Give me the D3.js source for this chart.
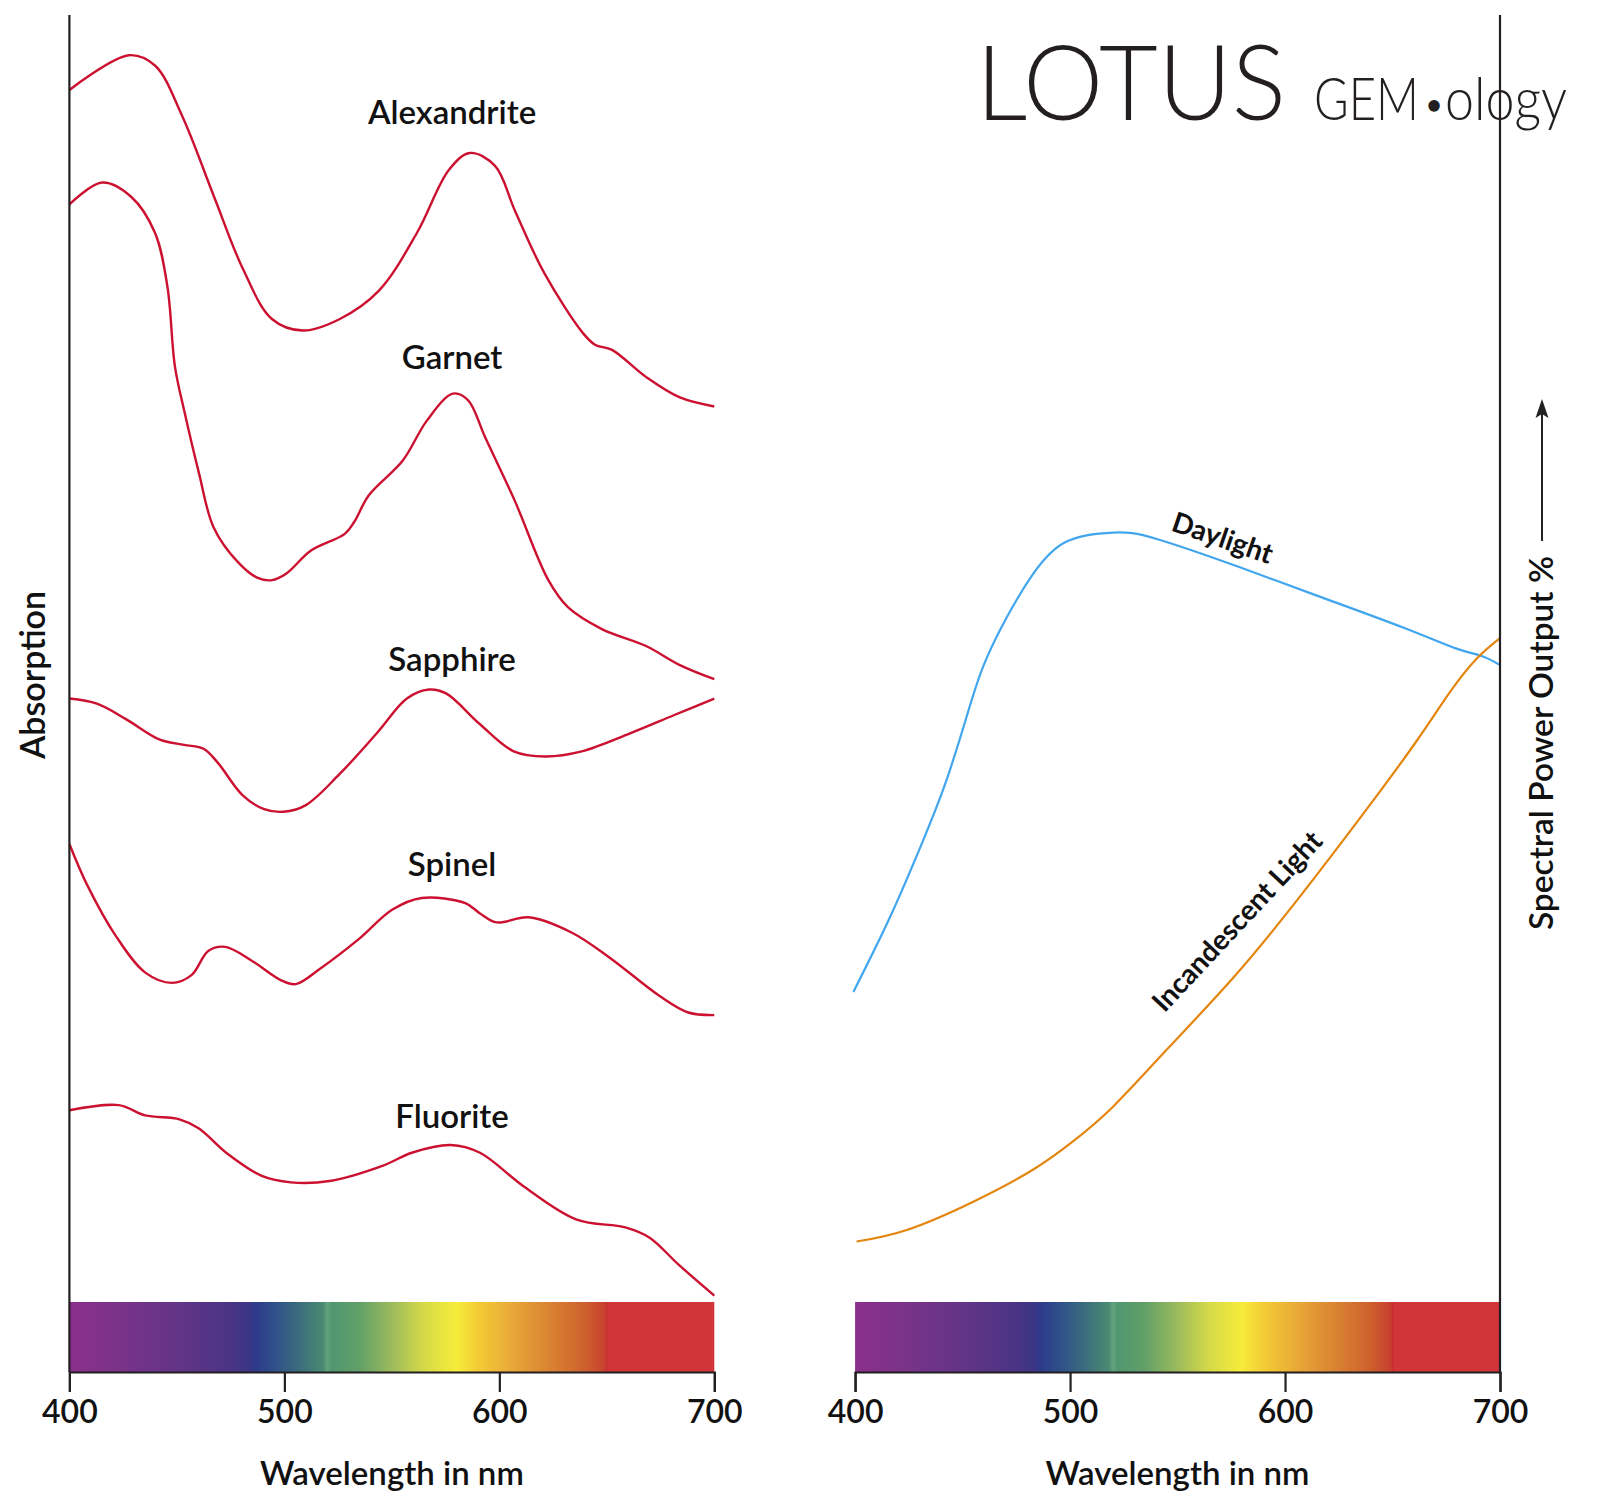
<!DOCTYPE html>
<html>
<head>
<meta charset="utf-8">
<script src="https://cdn.jsdelivr.net/npm/d3@7"></script>
<style>
  body { margin: 0; background: #fff; }
  #chart-area { width: 1600px; height: 1502px; }
  text { font-family: Lato, "Open Sans", sans-serif; fill: #111; }
</style>
</head>
<body>
<div id="chart-area"></div>
<script>
// wavelength (nm), absorption / output (arbitrary units 0-100)
var tickValues = [400, 500, 600, 700];

var alexandrite = [[400,94.2],[427.7,96.9],[439.8,96.1],[452.4,92.2],[467.3,85.9],[480.7,80.3],[494.2,76.4],
  [508.6,75.5],[525.8,76.4],[544,78.6],[561.7,83.1],[576.6,88.0],[586.3,89.3],[598,88.3],[607.3,84.8],
  [620.8,80.0],[638.9,75.3],[644.5,74.4],[652.4,74.0],[668.2,71.9],[684,70.3],[700,69.6]];

var garnet = [[400,85.3],[415.2,87.0],[428.7,85.9],[439.8,83.1],[445.6,78.9],[449.1,72.7],[453.5,69.2],
  [460.3,64.4],[467.1,60.2],[478.4,57.5],[487.3,56.3],[494.2,56.1],[500.8,56.6],[512.4,58.4],[528.1,59.7],
  [532.4,60.6],[539.3,62.7],[555.1,65.4],[566.3,68.5],[578.4,70.6],[585.4,70.1],[593.4,67.2],[607.1,62.3],
  [622.8,56.1],[631.9,54.0],[647.7,52.3],[668,51.0],[684,49.5],[700,48.4]];

var sapphire = [[400,46.9],[412.8,46.5],[426.3,45.3],[442.1,43.7],[453.4,43.3],[462.4,43.0],[469.1,41.9],
  [480.5,39.4],[490.6,38.3],[499.6,38.1],[509.8,38.6],[525.5,41.0],[543.5,44.3],[557,46.9],[567.3,47.6],
  [575.2,47.3],[591,44.9],[606.7,42.8],[621.4,42.4],[638.3,42.8],[660.8,44.2],[681.1,45.6],[700,46.9]];

var spinel = [[400,35.6],[408.3,32.4],[421.8,28.4],[435.3,25.6],[447.7,24.8],[456.8,25.4],[464.7,27.3],
  [472.6,27.6],[485,26.5],[498.5,25.0],[505.3,24.7],[516.6,25.9],[534.6,28.2],[550.3,30.5],[563.9,31.4],
  [584.2,31.0],[591,30.2],[598.8,29.5],[613.5,29.9],[633.8,28.7],[651.8,26.7],[674.4,23.8],[687.9,22.5],[700,22.3]];

var fluorite = [[400,14.9],[423,15.3],[435.3,14.5],[451.2,14.2],[460.1,13.5],[473.7,11.5],[489.5,9.8],
  [503,9.3],[521,9.4],[545.9,10.6],[559.3,11.6],[577.4,12.2],[591,11.6],[611.2,9.0],[636,6.4],
  [658.6,5.8],[669.9,5.0],[683.4,2.9],[700,0.5]];

var daylight = [[399.2,24.1],[416.2,29.9],[431.7,35.9],[442.6,40.6],[451.9,45.5],[459.6,49.4],[470.5,53.2],
  [482.9,56.6],[498.4,59.1],[520.1,59.8],[540.3,59.3],[579,57.1],[614.8,54.9],[655.2,52.4],[679.4,50.8],
  [691.5,50.2],[700,49.5]];

var incandescent = [[400.7,4.7],[424,5.6],[455,7.8],[482.9,10.3],[501.5,12.5],[520.1,15.2],[544.9,19.6],
  [575.9,25.2],[606.9,31.5],[638,38.3],[661.2,43.6],[676.7,47.4],[689.1,50.0],[700,51.6]];

var gemNames = ["Alexandrite", "Garnet", "Sapphire", "Spinel", "Fluorite"];
var gemLabelY = [92.5, 73.4, 50.0, 34.0, 14.45];

var spectrumStops = [[400,"#8b2f8c"],[420,"#7c3389"],[450,"#633487"],[475,"#4a3484"],[484,"#3a3686"],
  [486,"#2d3a8a"],[495,"#2f4f8b"],[505,"#38687f"],[518,"#4a8a72"],[520,"#62a37e"],[522,"#509670"],
  [535,"#62a068"],[550,"#9cbb5c"],[565,"#d6da47"],[580,"#f7ec3a"],[590,"#f3cc35"],[605,"#e9aa38"],
  [620,"#dc8a33"],[640,"#cd602d"],[649,"#c8402f"],[650,"#c8302f"],[651,"#d13538"],[700,"#d13539"]];

var width = 1600, height = 1502;
var barTop = 1302, barBottom = 1372, plotTop = 15;

var svg = d3.select("#chart-area").append("svg")
    .attr("width", width)
    .attr("height", height);

var xLeft = d3.scaleLinear().domain([400, 700]).range([69.4, 714.3]);
var xRight = d3.scaleLinear().domain([400, 700]).range([855.1, 1500]);
var y = d3.scaleLinear().domain([0, 100]).range([barTop, plotTop + 0.3]);

var defs = svg.append("defs");
var grad = defs.append("linearGradient").attr("id", "spectrum");
spectrumStops.forEach(function(s) {
  grad.append("stop")
      .attr("offset", ((s[0] - 400) / 300 * 100) + "%")
      .attr("stop-color", s[1]);
});

// spectrum bars
[xLeft, xRight].forEach(function(x) {
  svg.append("rect")
      .attr("x", x(400))
      .attr("y", barTop)
      .attr("width", x(700) - x(400))
      .attr("height", barBottom - barTop)
      .attr("fill", "url(#spectrum)");
});

// logo
svg.append("text")
    .attr("x", 976).attr("y", 120)
    .attr("font-size", 104)
    .attr("font-weight", 300)
    .attr("textLength", 310)
    .attr("lengthAdjust", "spacingAndGlyphs")
    .style("fill", "#231f20")
    .text("LOTUS");
svg.append("text")
    .attr("x", 1314).attr("y", 120)
    .attr("font-size", 59)
    .attr("font-weight", 300)
    .attr("textLength", 105)
    .attr("lengthAdjust", "spacingAndGlyphs")
    .style("fill", "#231f20")
    .text("GEM");
svg.append("text")
    .attr("x", 1434).attr("y", 114)
    .attr("text-anchor", "middle")
    .attr("font-size", 26)
    .attr("font-weight", 700)
    .style("fill", "#231f20")
    .text("\u2022");
svg.append("text")
    .attr("x", 1445).attr("y", 120)
    .attr("font-size", 59)
    .attr("font-weight", 300)
    .attr("textLength", 122)
    .attr("lengthAdjust", "spacingAndGlyphs")
    .style("fill", "#231f20")
    .text("ology");

var line = function(x, curve) {
  return d3.line()
      .x(function(d) { return x(d[0]); })
      .y(function(d) { return y(d[1]); })
      .curve(curve);
};

[alexandrite, garnet, sapphire, spinel, fluorite].forEach(function(series) {
  svg.append("path")
      .datum(series)
      .attr("d", line(xLeft, d3.curveCatmullRom.alpha(0.5)))
      .attr("fill", "none")
      .attr("stroke", "#cc1130")
      .attr("stroke-width", 2.4);
});

svg.append("path")
    .datum(daylight)
    .attr("d", line(xRight, d3.curveNatural))
    .attr("fill", "none")
    .attr("stroke", "#41a6ee")
    .attr("stroke-width", 2.2);

svg.append("path")
    .datum(incandescent)
    .attr("d", line(xRight, d3.curveNatural))
    .attr("fill", "none")
    .attr("stroke", "#e4850e")
    .attr("stroke-width", 2.2);

gemNames.forEach(function(name, i) {
  svg.append("text")
      .attr("x", xLeft(578))
      .attr("y", y(gemLabelY[i]))
      .attr("dy", "0.36em")
      .attr("text-anchor", "middle")
      .attr("font-size", 33)
      .attr("font-weight", 600)
      .text(name);
});

svg.append("text")
    .attr("transform", "translate(" + xRight(571) + "," + y(59.4) + ") rotate(19)")
    .attr("dy", "0.36em")
    .attr("text-anchor", "middle")
    .attr("font-size", 28)
    .attr("font-weight", 700)
    .text("Daylight");

svg.append("text")
    .attr("transform", "translate(" + xRight(577.6) + "," + y(29.6) + ") rotate(-47)")
    .attr("dy", "0.36em")
    .attr("text-anchor", "middle")
    .attr("font-size", 28)
    .attr("font-weight", 700)
    .text("Incandescent Light");

// axes
function drawAxis(x) {
  var g = svg.append("g")
      .attr("class", "axis")
      .attr("transform", "translate(0," + barBottom + ")")
      .call(d3.axisBottom(x).tickValues(tickValues).tickSize(20).tickSizeOuter(20).tickPadding(8));
  g.select(".domain").attr("stroke", "#231f20").attr("stroke-width", 2.2);
  g.selectAll(".tick line").attr("stroke", "#231f20").attr("stroke-width", 2.2);
  g.selectAll(".tick text")
      .attr("font-family", "Lato, sans-serif")
      .attr("font-size", 32)
      .attr("font-weight", 600)
      .style("fill", "#111");
  svg.append("text")
      .attr("x", (x(400) + x(700)) / 2)
      .attr("y", 1485)
      .attr("text-anchor", "middle")
      .attr("font-size", 33)
      .attr("font-weight", 600)
      .text("Wavelength in nm");
}
drawAxis(xLeft);
drawAxis(xRight);

svg.append("line")
    .attr("x1", xLeft(400)).attr("x2", xLeft(400))
    .attr("y1", plotTop).attr("y2", barBottom)
    .attr("stroke", "#231f20").attr("stroke-width", 2.2);
svg.append("line")
    .attr("x1", xRight(700)).attr("x2", xRight(700))
    .attr("y1", plotTop).attr("y2", barBottom)
    .attr("stroke", "#231f20").attr("stroke-width", 2.2);

svg.append("text")
    .attr("transform", "translate(33," + 675 + ") rotate(-90)")
    .attr("dy", "0.36em")
    .attr("text-anchor", "middle")
    .attr("font-size", 34)
    .attr("font-weight", 600)
    .text("Absorption");

svg.append("text")
    .attr("transform", "translate(1541," + 743 + ") rotate(-90)")
    .attr("dy", "0.36em")
    .attr("text-anchor", "middle")
    .attr("font-size", 33.5)
    .attr("font-weight", 600)
    .text("Spectral Power Output %");

// arrow pointing up
svg.append("line")
    .attr("x1", 1542).attr("x2", 1542)
    .attr("y1", 541).attr("y2", 412)
    .attr("stroke", "#222").attr("stroke-width", 2);
svg.append("path")
    .attr("d", "M1542,399 L1548.5,418 L1542,414 L1535.5,418 Z")
    .attr("fill", "#222");
</script>
</body>
</html>
